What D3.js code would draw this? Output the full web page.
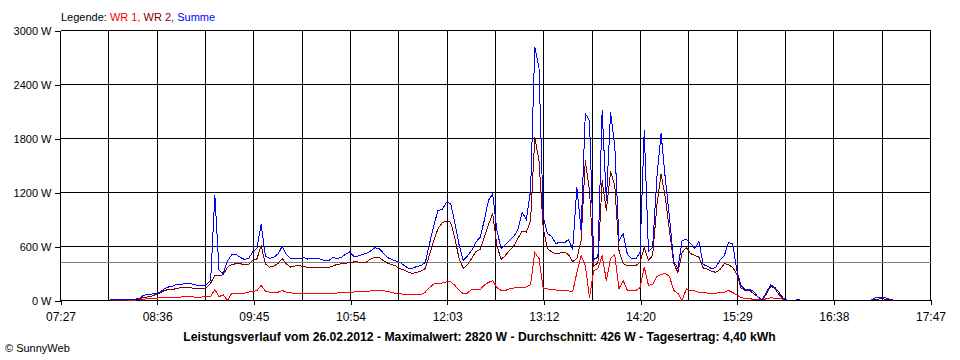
<!DOCTYPE html>
<html><head><meta charset="utf-8">
<script src="https://cdn.jsdelivr.net/npm/d3@7"></script>
<style>body{margin:0;background:#fff}svg{display:block}text{font-family:"Liberation Sans",Arial,sans-serif}</style>
</head><body>
<svg id="c" width="960" height="360"></svg>
<script>
// ---- data (W), sampled every 3 minutes starting 08:02 ----
const startTime = "08:02";
const stepMinutes = 3;
const wr1 = [3,3,3,4,4,5,5,8,14,22,24,26,30,34,37,37,37,39,39,39,39,37,39,42,44,122,44,61,0,78,
 81,81,81,94,100,111,167,106,92,92,92,111,94,86,78,74,74,78,78,78,78,78,81,81,83,86,89,92,94,97,
 100,103,106,108,111,108,100,89,78,74,70,67,67,67,67,94,144,183,186,194,206,211,167,117,74,83,122,117,119,172,
 200,222,144,111,111,130,139,150,144,150,178,533,467,139,128,122,117,111,111,106,100,311,500,389,33,333,356,500,222,467,
 511,133,222,111,111,111,144,370,167,178,267,289,300,267,111,78,0,128,111,106,92,89,83,74,78,92,89,111,89,61,
 33,22,19,14,8,6,19,30,26,22,14,0,
 null,null,null,null,null,null,null,null,null,null,null,null,null,null,null,null,null,null,null,3,15,17,17,10,2];
const wr2 = [4,4,4,5,5,7,8,14,37,39,50,67,83,111,122,124,133,144,148,144,133,130,128,144,194,278,272,289,370,400,
 408,408,400,400,444,463,611,406,370,383,411,467,406,372,383,389,378,370,370,370,370,363,367,383,400,408,414,422,428,428,
 422,426,461,478,481,444,417,400,383,352,339,311,300,314,328,356,511,667,797,861,883,870,700,467,356,400,467,544,567,703,
 844,963,611,456,500,556,606,689,772,759,889,1811,1556,800,578,539,522,528,537,511,433,467,667,1556,1222,378,422,1333,1000,1433,
 1278,556,411,389,389,389,422,592,444,500,1056,1407,1148,778,411,311,533,589,522,500,481,361,350,322,314,344,408,400,367,294,
 139,111,111,78,39,8,67,156,133,67,22,0,
 null,null,null,null,null,null,null,null,null,null,null,null,null,null,null,null,null,null,null,6,15,17,17,10,3];
const summe = [8,8,8,10,10,13,13,22,56,67,72,78,94,128,150,161,183,178,192,189,178,167,161,178,222,1174,333,300,440,506,
 511,481,456,467,539,583,845,494,467,481,517,600,511,467,472,461,478,461,467,463,461,444,439,478,467,478,511,539,489,494,
 511,526,550,586,578,528,478,456,439,422,389,359,361,378,389,422,633,833,1000,1011,1089,1078,867,622,444,494,556,650,700,889,
 1111,1186,778,578,617,667,711,789,978,900,1222,2820,2580,933,744,711,633,648,639,678,567,1256,778,2078,2000,456,481,2111,1111,2089,
 1722,667,744,511,463,463,533,1889,544,592,1367,1856,1356,926,433,356,667,678,633,578,656,400,383,352,370,450,494,644,633,333,
 167,117,122,100,39,8,89,172,148,92,28,0,
 null,8,8,null,null,null,null,null,null,null,null,null,null,null,null,null,null,null,null,8,30,33,33,20,5];
const yTicks = [0, 600, 1200, 1800, 2400, 3000];
const xTickLabels = ["07:27","08:36","09:45","10:54","12:03","13:12","14:20","15:29","16:38","17:47"];
const average = 426;
const legendLabel = "Legende: ";
const seriesNames = ["WR 1", "WR 2", "Summe"];
const title = "Leistungsverlauf vom 26.02.2012 - Maximalwert: 2820 W - Durchschnitt: 426 W - Tagesertrag: 4,40 kWh";
const copyright = "\u00A9 SunnyWeb";

// ---- helpers ----
const toMin = s => { const [h, m] = s.split(":").map(Number); return h * 60 + m; };
const t0 = toMin(xTickLabels[0]), t1 = toMin(xTickLabels[xTickLabels.length - 1]);
const start = toMin(startTime);

const svg = d3.select("#c");
const x = d3.scaleLinear().domain([t0, t1]).range([60.5, 930.5]);
const y = d3.scaleLinear().domain([0, 3000]).range([300.5, 30.5]);

// grid
const grid = svg.append("g").attr("shape-rendering", "crispEdges").attr("stroke", "#000").attr("stroke-width", 1);
const gridTimes = d3.range(19).map(i => t0 + i * (t1 - t0) / 18);
grid.selectAll("line.v").data(gridTimes).join("line")
  .attr("x1", d => x(d)).attr("x2", d => x(d)).attr("y1", y(3000)).attr("y2", y(0));
grid.selectAll("line.h").data(yTicks).join("line").attr("class", "h")
  .attr("x1", x(t0)).attr("x2", x(t1)).attr("y1", d => y(d)).attr("y2", d => y(d));

// axis ticks
const tickTimes = xTickLabels.map((l, i) => t0 + i * (t1 - t0) / (xTickLabels.length - 1));
const xAxis = d3.axisBottom(x).tickValues(tickTimes).tickSize(5)
  .tickFormat((d, i) => xTickLabels[i]);
const gx = svg.append("g").attr("transform", "translate(0,300)").call(xAxis);
gx.select(".domain").remove();
gx.selectAll("line").attr("stroke", "#000").attr("shape-rendering", "crispEdges");
gx.selectAll("text").attr("font-size", 12).attr("fill", "#000").attr("dy", null).attr("y", 21)
  .style("font-family", '"Liberation Sans",Arial,sans-serif');

const yAxis = d3.axisLeft(y).tickValues(yTicks).tickSize(6).tickFormat(d => d + " W");
const gy = svg.append("g").call(yAxis);
gy.attr("transform", "translate(60.5,0)");
gy.select(".domain").remove();
gy.selectAll("line").attr("stroke", "#000").attr("shape-rendering", "crispEdges");
gy.selectAll("text").attr("font-size", 11).attr("fill", "#000").attr("x", -9)
  .style("font-family", '"Liberation Sans",Arial,sans-serif');

// average line
svg.append("line").attr("shape-rendering", "crispEdges")
  .attr("x1", x(t0)).attr("x2", x(t1)).attr("y1", y(average)).attr("y2", y(average))
  .attr("stroke", "#808080");

// series
const colors = ["#ff0000", "#800000", "#0000ff"];
const series = [wr1, wr2, summe];
const line = d3.line().defined(d => d.v !== null).x(d => x(d.t)).y(d => y(d.v));
series.forEach((vals, si) => {
  const pts = vals.map((v, i) => ({ t: start + i * stepMinutes, v }));
  svg.append("path").datum(pts).attr("d", line)
    .attr("fill", "none").attr("stroke", colors[si]).attr("stroke-width", 1)
    .attr("shape-rendering", "crispEdges");
});

// legend
const lg = svg.append("text").attr("x", 61).attr("y", 21).attr("font-size", 11);
lg.append("tspan").text(legendLabel).attr("fill", "#000");
seriesNames.forEach((n, i) => {
  lg.append("tspan").text(n + (i < seriesNames.length - 1 ? ", " : "")).attr("fill", colors[i]);
});

// title
svg.append("text").attr("x", 479.5).attr("y", 341).attr("text-anchor", "middle")
  .attr("font-size", 12.2).attr("font-weight", "bold").attr("fill", "#000").text(title);
svg.append("text").attr("x", 5).attr("y", 352).attr("font-size", 11).attr("fill", "#000").text(copyright);
</script>
</body></html>
